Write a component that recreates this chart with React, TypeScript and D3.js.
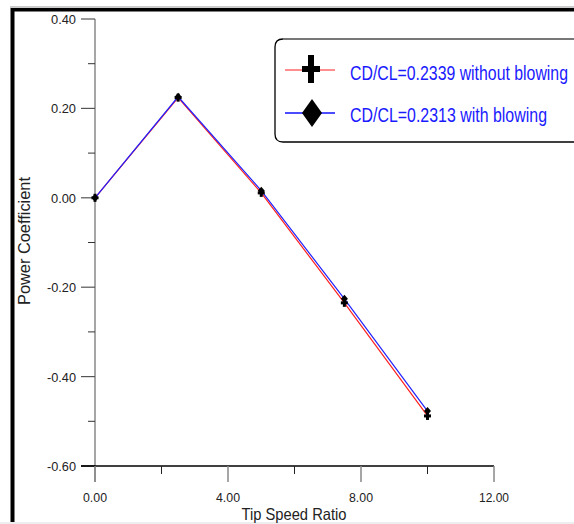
import React from "react";
import * as d3 from "d3";

const tsr = [0, 2.5, 5, 7.5, 10];
const cpWithout = [0, 0.224, 0.011, -0.235, -0.488];
const cpWith = [0, 0.226, 0.016, -0.226, -0.477];
const xTicks = [0, 4, 8, 12];
const xMinor = [2, 6, 10];
const yTicks = [-0.6, -0.4, -0.2, 0, 0.2, 0.4];
const yMinor = [-0.5, -0.3, -0.1, 0.1, 0.3];
const legendLabels = ["CD/CL=0.2339 without blowing", "CD/CL=0.2313 with blowing"];

const W = 574;
const H = 524;
const x = d3.scaleLinear().domain([0, 12]).range([95, 494]);
const y = d3.scaleLinear().domain([-0.6, 0.4]).range([466, 19]);
const FONT = "'Liberation Sans', Arial, sans-serif";
const fmt = (v: number) => d3.format(".2f")(v).replace("\u2212", "-");

function Plus({ cx, cy, w, h, t }: { cx: number; cy: number; w: number; h: number; t: number }) {
  return (
    <g fill="#000">
      <rect x={cx - t / 2} y={cy - h / 2} width={t} height={h} />
      <rect x={cx - w / 2} y={cy - t / 2} width={w} height={t} />
    </g>
  );
}
function Diamond({ cx, cy, w, h }: { cx: number; cy: number; w: number; h: number }) {
  return (
    <path
      d={`M${cx},${cy - h / 2}L${cx + w / 2},${cy}L${cx},${cy + h / 2}L${cx - w / 2},${cy}Z`}
      fill="#000"
    />
  );
}

export default function App() {
  const line = d3
    .line<number>()
    .x((_, i) => x(tsr[i]))
    .y((d) => y(d));
  return (
    <svg
      width={W}
      height={H}
      style={{ position: "absolute", left: 0, top: 0, background: "#fff" }}
      fontFamily={FONT}
    >
      {/* frame */}
      <rect x={10} y={6.5} width={W - 10} height={1} fill="#999" />
      <rect x={11} y={8} width={W - 11} height={3.5} fill="#000" />
      <rect x={10.5} y={8} width={4} height={H - 10} fill="#000" />
      <rect x={0} y={522} width={W} height={2} fill="#eeeeee" />

      {/* y axis */}
      <line x1={95} x2={95} y1={y(0.4)} y2={482} stroke="#888" strokeWidth={1.5} />
      {yTicks.map((t) => (
        <g key={t}>
          <line
            x1={81}
            x2={95}
            y1={y(t)}
            y2={y(t)}
            stroke={t === -0.6 ? "#000" : "#555"}
            strokeWidth={1.2}
          />
          <text
            x={76}
            y={y(t) + 5}
            textAnchor="end"
            fontSize={13.5}
            fill="#222"
            textLength={t < 0 ? 29 : 25}
            lengthAdjust="spacingAndGlyphs"
          >
            {fmt(t)}
          </text>
        </g>
      ))}
      {yMinor.map((t) => (
        <line key={t} x1={88} x2={95} y1={y(t)} y2={y(t)} stroke="#333" strokeWidth={1} />
      ))}

      {/* x axis */}
      <line x1={81} x2={x(12)} y1={466} y2={466} stroke="#000" strokeWidth={1.5} />
      {xTicks.map((t) => (
        <g key={t}>
          <line x1={x(t)} x2={x(t)} y1={466} y2={482} stroke="#888" strokeWidth={1.5} />
          <text
            x={x(t)}
            y={502}
            textAnchor="middle"
            fontSize={13.5}
            fill="#222"
            textLength={t >= 10 ? 30 : 24}
            lengthAdjust="spacingAndGlyphs"
          >
            {fmt(t)}
          </text>
        </g>
      ))}
      {xMinor.map((t) => (
        <line key={t} x1={x(t)} x2={x(t)} y1={466} y2={474} stroke="#222" strokeWidth={1} />
      ))}

      {/* axis titles */}
      <text
        x={294}
        y={520}
        textAnchor="middle"
        fontSize={16.5}
        fill="#222"
        textLength={105}
        lengthAdjust="spacingAndGlyphs"
      >
        Tip Speed Ratio
      </text>
      <text
        transform={`translate(30,241) rotate(-90)`}
        textAnchor="middle"
        fontSize={16}
        fill="#222"
        textLength={128}
        lengthAdjust="spacingAndGlyphs"
      >
        Power Coefficient
      </text>

      {/* series */}
      <path d={line(cpWithout) || ""} fill="none" stroke="#ff2020" strokeWidth={1.2} />
      <path d={line(cpWith) || ""} fill="none" stroke="#2020ff" strokeWidth={1.2} />
      {cpWithout.map((v, i) => (
        <Plus key={"p" + i} cx={x(tsr[i])} cy={y(v)} w={7} h={8} t={3} />
      ))}
      {cpWith.map((v, i) => (
        <Diamond key={"d" + i} cx={x(tsr[i])} cy={y(v)} w={7} h={8} />
      ))}

      {/* legend */}
      <path
        d={`M${W + 10},142 L283,142 Q275,142 275,134 L275,47 Q275,39 283,39 L${W + 10},39`}
        fill="#fff"
        stroke="#000"
        strokeWidth={1.3}
      />
      <line x1={283} x2={W} y1={39} y2={39} stroke="#777" strokeWidth={2} />
      <line x1={285} x2={335} y1={70} y2={70} stroke="#ff6a6a" strokeWidth={1.5} />
      <Plus cx={311} cy={69} w={18} h={28} t={6} />
      <line x1={285} x2={335} y1={113} y2={113} stroke="#1010ff" strokeWidth={1.5} />
      <Diamond cx={312} cy={113} w={20} h={28} />
      <text
        transform="translate(350,80) scale(1,1.3)"
        fontSize={16}
        fill="#1a1aff"
        textLength={218}
        lengthAdjust="spacingAndGlyphs"
      >
        {legendLabels[0]}
      </text>
      <text
        transform="translate(350,122) scale(1,1.3)"
        fontSize={16}
        fill="#1a1aff"
        textLength={197}
        lengthAdjust="spacingAndGlyphs"
      >
        {legendLabels[1]}
      </text>
    </svg>
  );
}
